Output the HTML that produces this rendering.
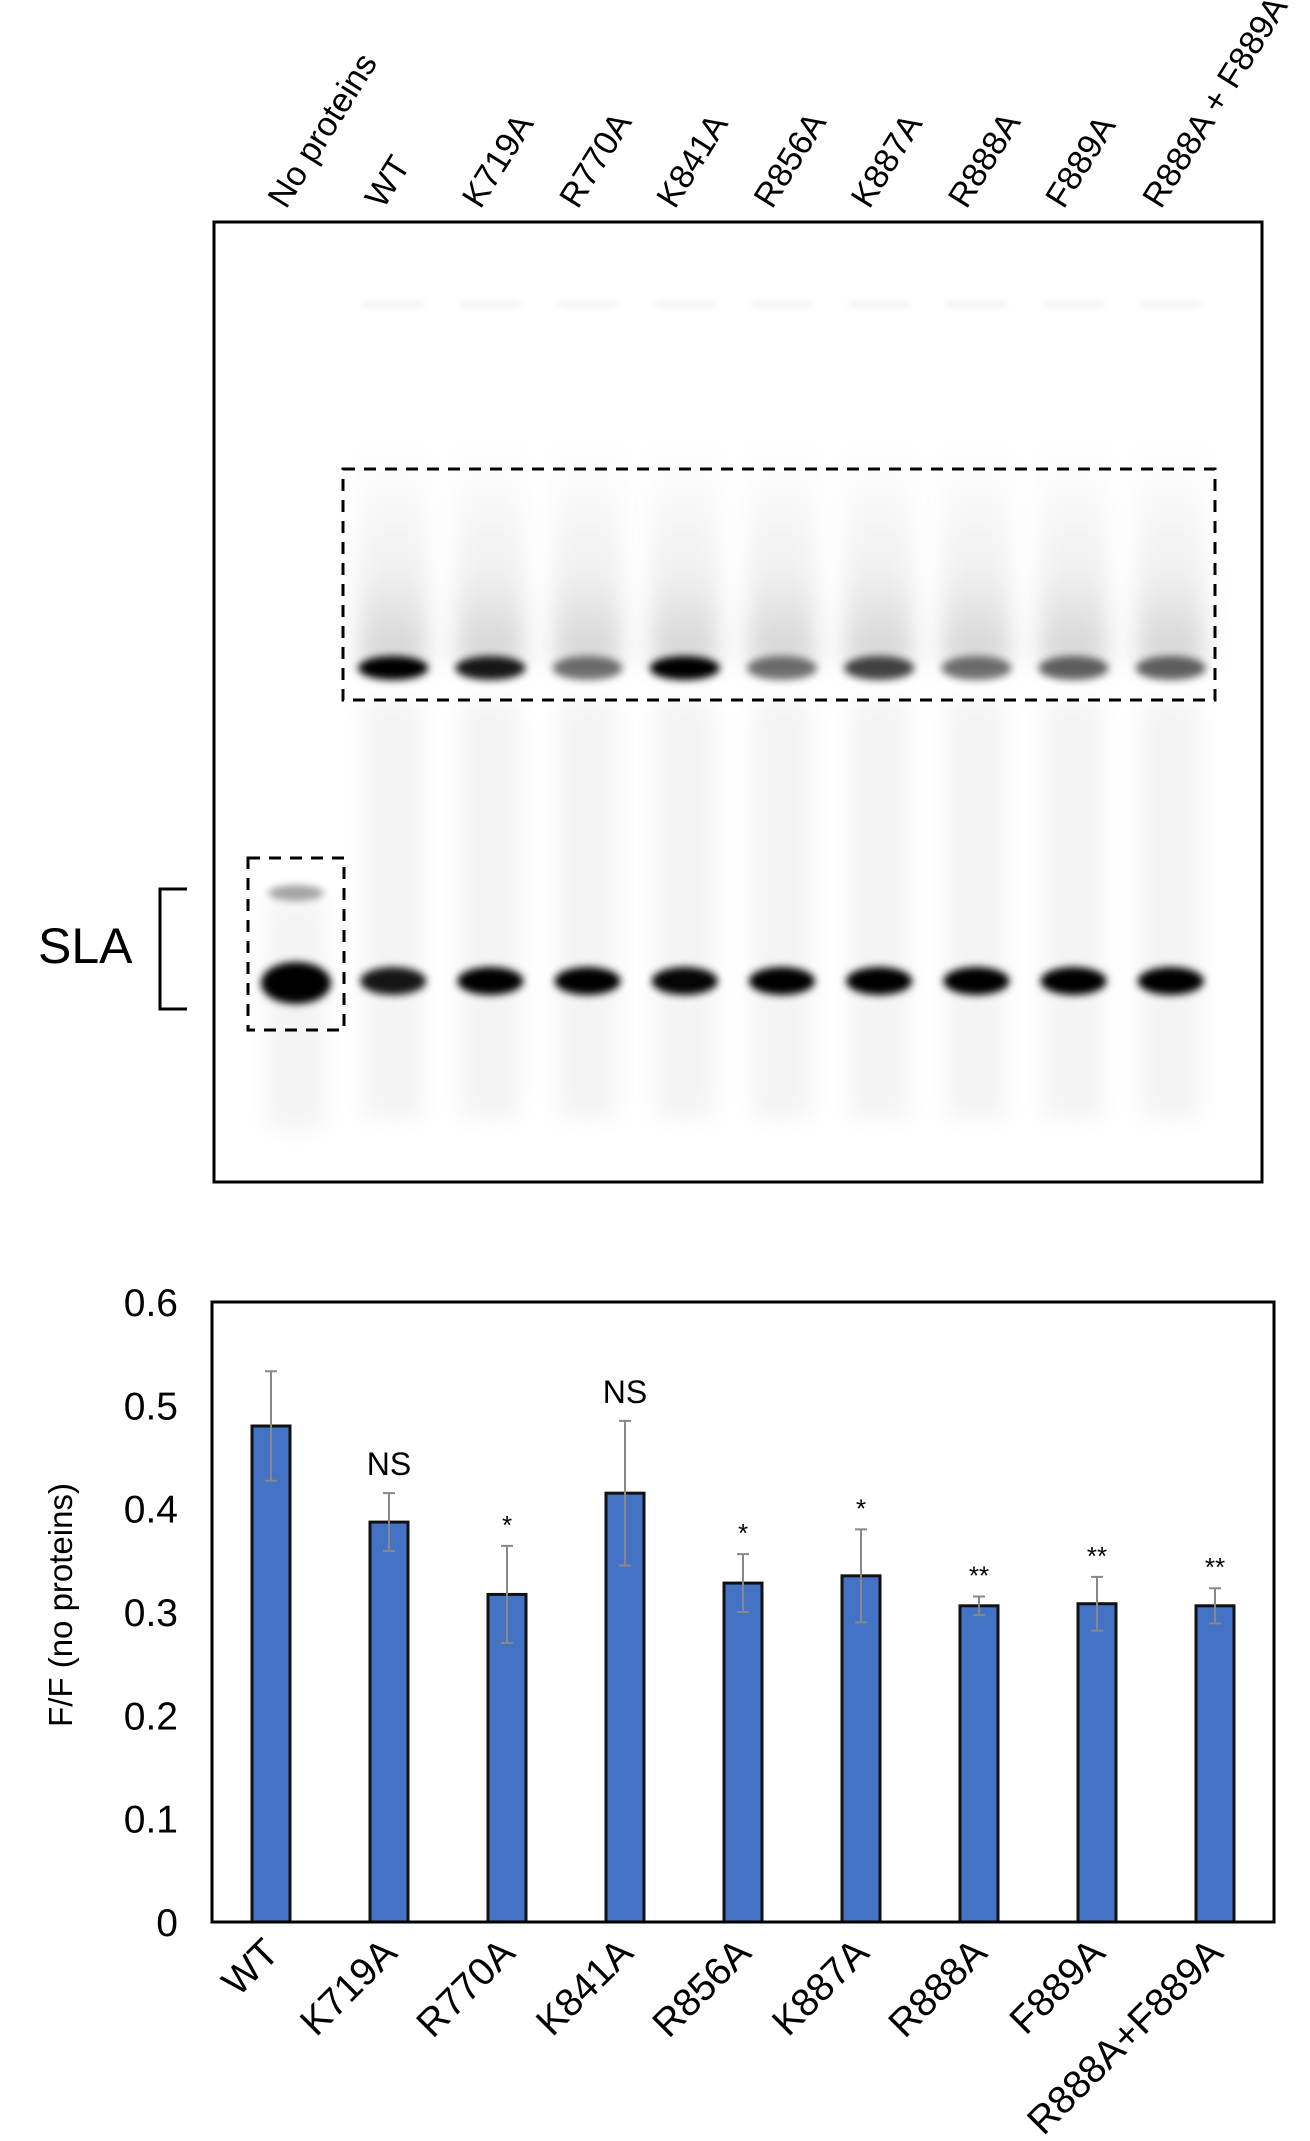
<!DOCTYPE html>
<html><head><meta charset="utf-8"><style>
html,body{margin:0;padding:0;background:#fff;}
svg{display:block;font-family:"Liberation Sans",Arial,sans-serif;}
</style></head><body>
<svg id="fig" width="1310" height="2141" viewBox="0 0 1310 2141">
<defs>
<filter id="b3" x="-50%" y="-100%" width="200%" height="300%"><feGaussianBlur stdDeviation="4"/></filter>
<filter id="b12" x="-50%" y="-50%" width="200%" height="200%"><feGaussianBlur stdDeviation="12"/></filter>
<linearGradient id="smearG" x1="0" y1="0" x2="0" y2="1">
<stop offset="0" stop-color="#000" stop-opacity="0"/>
<stop offset="0.6" stop-color="#000" stop-opacity="0.06"/>
<stop offset="1" stop-color="#000" stop-opacity="0.18"/>
</linearGradient>
</defs>
<g id="gel"></g>
<rect x="214" y="222" width="1048" height="960" fill="none" stroke="#000" stroke-width="3"/>
<rect x="343" y="469" width="872" height="231" fill="none" stroke="#000" stroke-width="3" stroke-dasharray="12,9"/>
<rect x="248" y="858" width="96" height="172" fill="none" stroke="#000" stroke-width="3" stroke-dasharray="12,9"/>
<path d="M187,889 H160 V1009 H187" fill="none" stroke="#000" stroke-width="3"/>
<text x="38" y="963" font-size="50">SLA</text>
<g id="lanelabels"></g>
<g id="chart"></g>
</svg>
<script>
const laneNames = ["No proteins","WT","K719A","R770A","K841A","R856A","K887A","R888A","F889A","R888A + F889A"];
const lowerBand = [1.0, 0.7, 0.85, 0.9, 0.75, 0.9, 0.88, 0.88, 0.88, 0.9];
const upperBand = [0, 1.0, 0.75, 0.45, 1.0, 0.45, 0.6, 0.45, 0.5, 0.5];

const categories = ["WT","K719A","R770A","K841A","R856A","K887A","R888A","F889A","R888A+F889A"];
const values = [0.48, 0.387, 0.317, 0.415, 0.328, 0.335, 0.306, 0.308, 0.306];
const errors = [0.053, 0.028, 0.047, 0.07, 0.028, 0.045, 0.009, 0.026, 0.017];
const sig = ["", "NS", "*", "NS", "*", "*", "**", "**", "**"];
const yTicks = [0, 0.1, 0.2, 0.3, 0.4, 0.5, 0.6];

const NS = "http://www.w3.org/2000/svg";
function mk(tag, attrs, parent){const e=document.createElementNS(NS,tag);for(const k in attrs)e.setAttribute(k,attrs[k]);parent.appendChild(e);return e;}

const gel = document.getElementById('gel');
const laneX = i => 296 + i*97.2;
laneNames.forEach((n,i)=>{
  const x = laneX(i);
  const g = mk('g',{},gel);
  
  
  mk('rect',{x:x-30,y:i===0?900:700,width:60,height:i===0?230:420,fill:'#000',opacity:0.045,filter:'url(#b12)'},g);
  if(upperBand[i]>0){
    mk('rect',{x:x-30,y:302,width:60,height:5,fill:'#000',opacity:0.07,filter:'url(#b3)'},g);
    mk('rect',{x:x-34,y:440,width:68,height:225,fill:'url(#smearG)',filter:'url(#b12)'},g);
    const ub = mk('ellipse',{cx:x,cy:668,rx:35,ry:12,fill:'#000',opacity:Math.min(1,upperBand[i]*1.2),filter:'url(#b3)'},g);
    
    
  }
  const lb = mk('ellipse',{cx:x,cy:i===0?983:981,rx:i===0?35:33,ry:i===0?21:14,fill:'#000',opacity:Math.min(1,lowerBand[i]*1.3),filter:'url(#b3)'},g);
  
  
  if(i===0){ mk('ellipse',{cx:x,cy:893,rx:28,ry:8,fill:'#000',opacity:0.35,filter:'url(#b3)'},g); }
  const lx = x-10, ly = 210;
  const t = mk('text',{x:lx,y:ly,'font-size':34,transform:`rotate(-58 ${lx} ${ly})`},document.getElementById('lanelabels'));
  t.textContent = n;
  
  
});

const ch = document.getElementById('chart');
const L=212, R=1274, T=1302, B=1922, yMax=0.6;
const yS = v => B - v/yMax*(B-T);
const bw = (R-L)/categories.length;
const xC = i => L + bw*(i+0.5);
yTicks.forEach(v=>{
  const t = mk('text',{x:178,y:yS(v)+14,'font-size':39,'text-anchor':'end'},ch);
  t.textContent = v===0?'0':v.toFixed(1);
  
  
});
categories.forEach((c,i)=>{
  const x = xC(i);
  const r = mk('rect',{x:x-19,y:yS(values[i]),width:38,height:B-yS(values[i]),fill:'#4472C4',stroke:'#111',"stroke-width":3},ch);
  
  
  const eb = mk('path',{d:`M${x},${yS(values[i]+errors[i])} V${yS(values[i]-errors[i])} M${x-6},${yS(values[i]+errors[i])} H${x+6} M${x-6},${yS(values[i]-errors[i])} H${x+6}`,stroke:'#888',"stroke-width":2,fill:'none'},ch);
  
  
  if(sig[i]){
    const isNS = sig[i]==='NS';
    const s = mk('text',{x:x,y:yS(values[i]+errors[i])-(isNS?18:12),'font-size':isNS?32:26,'text-anchor':'middle'},ch);
    s.textContent = sig[i];
    
    
  }
  const tx = x+10, ty = 1955;
  const t = mk('text',{x:tx,y:ty,'font-size':39,'text-anchor':'end',transform:`rotate(-45 ${tx} ${ty})`},ch);
  t.textContent = c;
  
  
});
const fr = mk('path',{d:`M${L},${T} H${R} V${B} H${L} Z`,fill:'none',stroke:'#000',"stroke-width":3},ch);


const yt = mk('text',{x:0,y:0,'font-size':33,'text-anchor':'middle',transform:'translate(72 1605) rotate(-90)'},ch);
yt.textContent = 'F/F (no proteins)';


</script>
</body></html>
